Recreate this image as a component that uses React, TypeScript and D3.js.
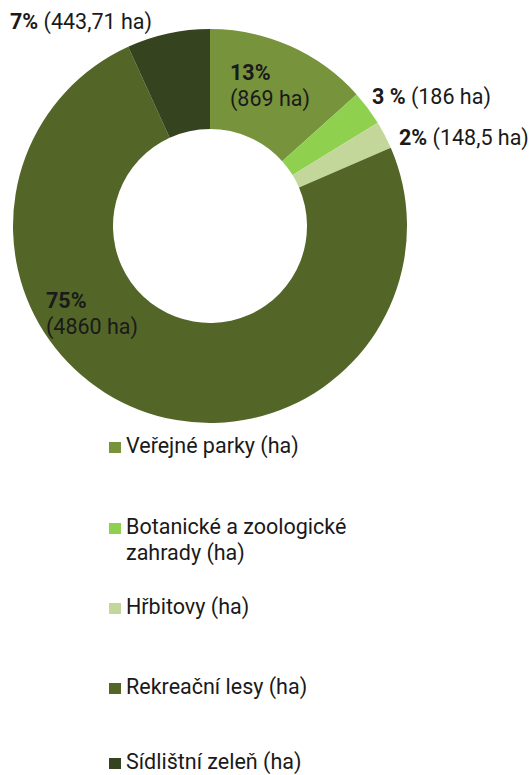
import React from "react";
import * as d3 from "d3";

const categories = [
  "Veřejné parky (ha)",
  "Botanické a zoologické zahrady (ha)",
  "Hřbitovy (ha)",
  "Rekreační lesy (ha)",
  "Sídlištní zeleň (ha)",
];
const values = [869, 186, 148.5, 4860, 443.71];
const pctLabels = ["13%", "3 %", "2%", "75%", "7%"];
const valueLabels = ["(869 ha)", "(186 ha)", "(148,5 ha)", "(4860 ha)", "(443,71 ha)"];
const colors = ["#77933c", "#8fd14f", "#c4d79b", "#536628", "#36431f"];

// label layout: [x, y, twoLines]
const labelPos: [number, number, boolean][] = [
  [230, 80, true],
  [372, 104, false],
  [399, 145, false],
  [46, 308, true],
  [10, 29, false],
];

const legendLines: string[][] = [
  ["Veřejné parky (ha)"],
  ["Botanické a zoologické", "zahrady (ha)"],
  ["Hřbitovy (ha)"],
  ["Rekreační lesy (ha)"],
  ["Sídlištní zeleň (ha)"],
];
const legendY = [453, 534, 614, 694, 769];

export default function App() {
  const W = 531, H = 775;
  const cx = 210, cy = 226, R = 197, r = 97;
  const pie = d3.pie<number>().sort(null).value((d) => d);
  const arcs = pie(values);
  const arc = d3.arc<d3.PieArcDatum<number>>().innerRadius(r).outerRadius(R);
  const font = "Roboto, 'Noto Sans', sans-serif";
  const fs = 21.5;
  return (
    <svg width={W} height={H} style={{ position: "absolute", left: 0, top: 0 }}>
      <rect width={W} height={H} fill="#fff" />
      <g transform={`translate(${cx},${cy})`}>
        {arcs.map((a, i) => (
          <path key={i} d={arc(a) || ""} fill={colors[i]} />
        ))}
      </g>
      <g fontFamily={font} fontSize={fs} fill="#1a1a1a">
        {labelPos.map(([x, y, two], i) =>
          two ? (
            <g key={i}>
              <text x={x} y={y} fontWeight="bold">{pctLabels[i]}</text>
              <text x={x} y={y + 26}>{valueLabels[i]}</text>
            </g>
          ) : (
            <text key={i} x={x} y={y}>
              <tspan fontWeight="bold">{pctLabels[i]}</tspan>
              <tspan> {valueLabels[i]}</tspan>
            </text>
          )
        )}
      </g>
      <g fontFamily={font} fontSize={fs} fill="#1a1a1a">
        {categories.map((c, i) => (
          <g key={i}>
            <rect x={109} y={legendY[i] - 11} width={12} height={11} fill={colors[i]} />
            {legendLines[i].map((ln, j) => (
              <text key={j} x={126} y={legendY[i] + j * 26}>{ln}</text>
            ))}
          </g>
        ))}
      </g>
    </svg>
  );
}
